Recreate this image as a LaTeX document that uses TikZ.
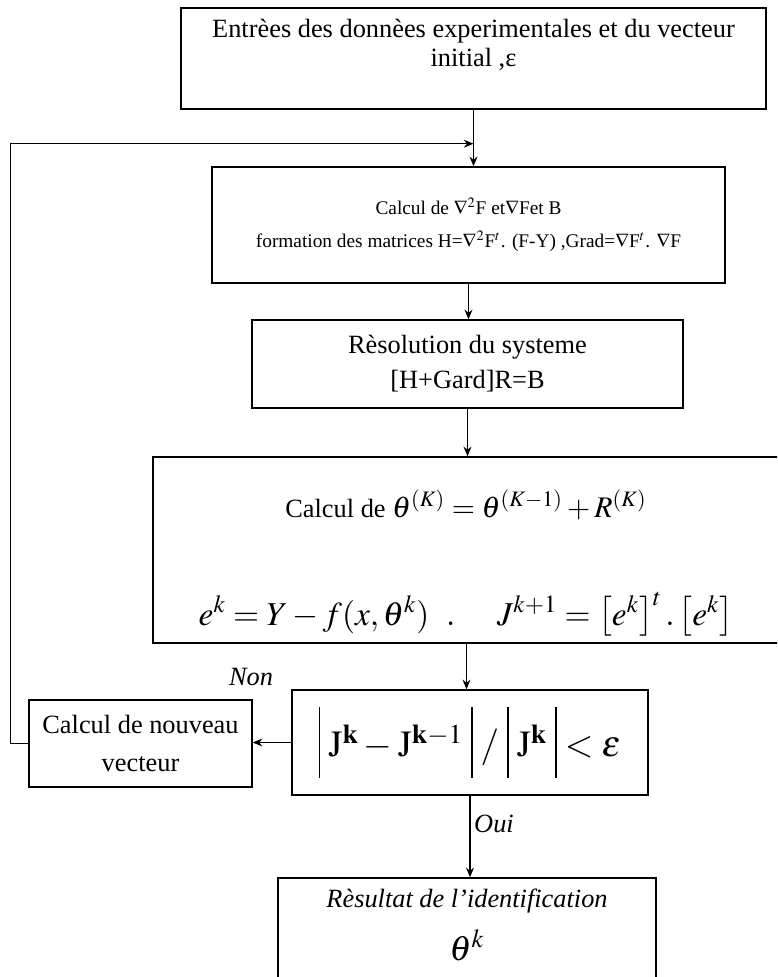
\documentclass[tikz,border=0pt]{standalone}
\usepackage{amsmath}
\usepackage{mathptmx}
\usepackage[no-math]{fontspec}
\setmainfont{Liberation Serif}
\usetikzlibrary{calc,arrows.meta}
\newcommand{\vbarre}{\rule[-12pt]{0.7pt}{40pt}}

\begin{document}
\begin{tikzpicture}[x=0.2mm, y=-0.2mm, line width=0.8pt]
    % Define styles
    \tikzstyle{etape} = [rectangle, draw, inner sep=0pt, align=center, font=\fontsize{15}{20}\selectfont]
    \tikzstyle{texte} = [align=center, inner sep=0pt, font=\fontsize{15}{16.5}\selectfont]
    \tikzstyle{choix} = [inner sep=2pt, font=\fontsize{15}{18}\selectfont\itshape]
    \tikzstyle{arrow} = [-{Stealth[length=5.5pt,width=4.5pt]}]

    \useasboundingbox (0,0) rectangle (777,977);
    \clip (0,0) rectangle (777,977);

    % Nodes
    \node[etape, minimum width=11.7cm, minimum height=2.02cm] (entree) at (473.5,58.5) {};
    \node[texte] (entreetxt) at (473.5,45) {Entrèes des donnèes experimentales et du vecteur\\ initial ,ε};
    \node[etape, minimum width=10.26cm, minimum height=2.32cm, font=\fontsize{11}{19}\selectfont] (grad) at (468.5,225)
        {Calcul de $\nabla^{2}$F et$\nabla$Fet B\\ formation des matrices H=$\nabla^{2}$F$^{t}$. (F-Y) ,Grad=$\nabla$F$^{t}$. $\nabla$F};
    \node[etape, minimum width=8.62cm, minimum height=1.76cm] (resol) at (467.5,364) {Rèsolution du systeme\\ {[}H+Gard{]}R=B};
    \node[etape, minimum width=12.54cm, minimum height=3.72cm] (calc) at (466.5,550) {};
    \node[anchor=base, inner sep=0pt, font=\fontsize{15}{18}\selectfont] (maj) at (466,517)
        {Calcul de \fontsize{17}{20}\selectfont$\theta^{(K)}=\theta^{(K-1)}+R^{(K)}$};
    \node[anchor=base, inner sep=0pt, font=\fontsize{19}{22}\selectfont] (err) at (466,625)
        {$e^{k}=Y-f(x,\theta^{k})\ \ .\quad\ J^{k+1}=\left[e^{k}\right]^{t}.\left[e^{k}\right]$};
    \node[etape, minimum width=7.12cm, minimum height=2.1cm, font=\fontsize{21}{26}\selectfont] (test) at (470,742.5)
        {$\vbarre\;\mathrm{J}^{\mathbf{k}}-\mathrm{J}^{\mathbf{k}-1}\;\vbarre\;/\;\vbarre\;\mathrm{J}^{\mathbf{k}}\;\vbarre<\varepsilon$};
    \node[etape, minimum width=4.46cm, minimum height=1.74cm, font=\fontsize{15}{21.5}\selectfont] (nouveau) at (140.5,743.5) {Calcul de nouveau\\ vecteur};
    \node[etape, minimum width=7.56cm, minimum height=2.44cm] (result) at (467,939) {};
    \node[choix, anchor=base] (ident) at (467,907) {Rèsultat de l’identification};
    \node[anchor=base, inner sep=0pt, font=\fontsize{20}{24}\selectfont] (theta) at (467,960) {$\theta^{k}$};
    \node[choix] (non) at (251,677) {Non};

    % Arrows
    \draw[arrow] (entree.south) -- (entree.south |- grad.north);
    \draw[arrow] (grad.south) -- (grad.south |- resol.north);
    \draw[arrow] (resol.south) -- (resol.south |- calc.north);
    \draw[arrow] (calc.south) -- (calc.south |- test.north);
    \draw[arrow] (test.west) -- (test.west -| nouveau.east);
    \draw[arrow] (test.south) -- node[choix, right, pos=0.35] (oui) {Oui} (test.south |- result.north);

    % Feedback loop
    \path (entree.south) ++(0,34) coordinate (retour);
    \draw[arrow] (nouveau.west) -- ++(-18,0) |- (retour);
\end{tikzpicture}
\end{document}
